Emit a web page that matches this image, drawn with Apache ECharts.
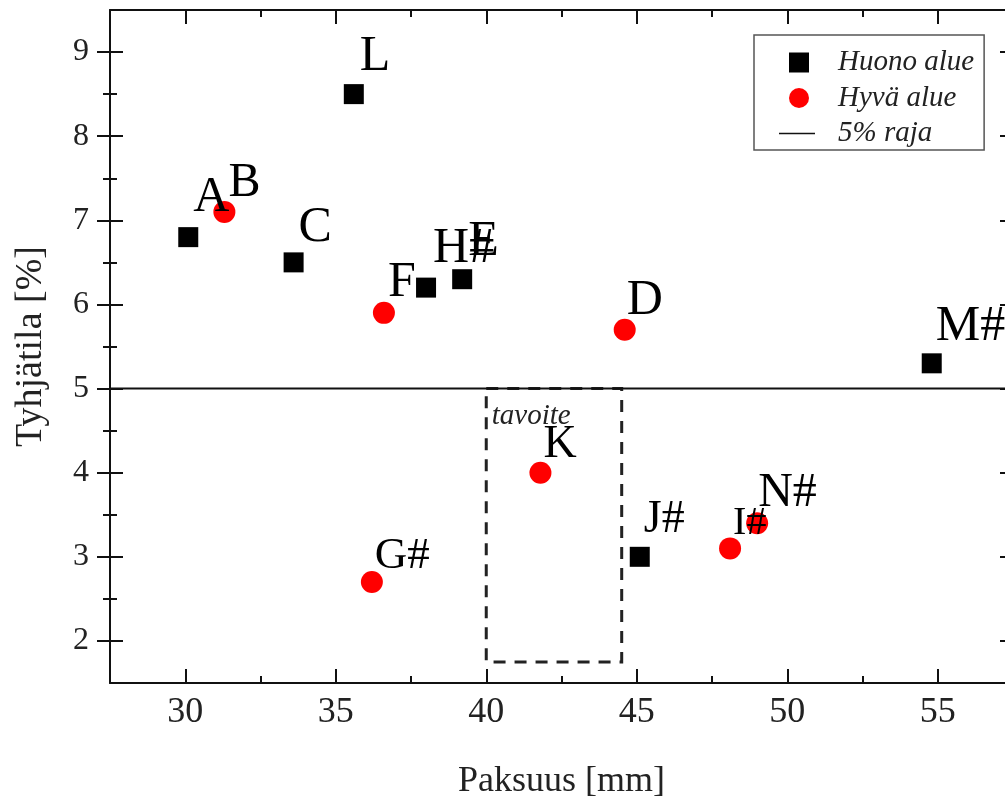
<!DOCTYPE html>
<html><head><meta charset="utf-8">
<script src="https://cdn.jsdelivr.net/npm/echarts@6/dist/echarts.min.js"></script>
<style>html,body{margin:0;padding:0;background:#fff}#c{width:1005px;height:796px}</style>
</head><body><div id="c"></div>
<script>
// ---- data ----
const huonoNames = ['A', 'L', 'C', 'H#', 'E', 'J#', 'M#'];
const huonoX = [30.1, 35.6, 33.6, 38.0, 39.2, 45.1, 54.8];
const huonoY = [6.8, 8.5, 6.5, 6.2, 6.3, 3.0, 5.3];
const hyvaNames = ['B', 'F', 'D', 'G#', 'K', 'I#', 'N#'];
const hyvaX = [31.3, 36.6, 44.6, 36.2, 41.8, 48.1, 49.0];
const hyvaY = [7.1, 5.9, 5.7, 2.7, 4.0, 3.1, 3.4];
const xMin = 27.5, xMax = 57.5, yMin = 1.5, yMax = 9.5;
const xTicks = [30, 35, 40, 45, 50, 55];
const xMinorTicks = [32.5, 37.5, 42.5, 47.5, 52.5];
const yTicks = [2, 3, 4, 5, 6, 7, 8, 9];
const yMinorTicks = [2.5, 3.5, 4.5, 5.5, 6.5, 7.5, 8.5];
const limitY = 5;
const targetX = [40, 44.5];
const targetY = [1.75, 5];
const seriesNames = ['Huono alue', 'Hyvä alue', '5% raja'];
const xName = 'Paksuus [mm]';
const yName = 'Tyhjätila [%]';
const targetText = 'tavoite';

// ---- label styling (offset from point centre, font size) ----
const labelStyle = {
  'A': [5, -39, 50], 'B': [4, -29, 48], 'L': [6, -37, 50], 'C': [5, -35, 50],
  'F': [4, -30, 50], 'H#': [7, -39, 50], 'E': [6, -37, 50], 'D': [2, -29, 50],
  'M#': [4, -36, 50], 'G#': [3, -26, 45], 'K': [3, -28, 46], 'J#': [4, -37, 46],
  'I#': [3, -25, 40], 'N#': [1, -30, 48]
};

const serif = '"Liberation Serif", "Times New Roman", serif';
const axCol = '#111';

function pts(names, xs, ys) {
  return names.map((n, i) => {
    const s = labelStyle[n] || [4, -30, 48];
    return { name: n, value: [xs[i], ys[i]], label: { offset: [s[0], s[1]], fontSize: s[2] } };
  });
}

function xAx(pos, ticks, len, line, labels) {
  return {
    type: 'value', position: pos, min: xMin, max: xMax, gridIndex: 0,
    axisLine: { show: line, onZero: false, lineStyle: { color: axCol, width: 2 } },
    axisTick: { show: true, inside: true, length: len, customValues: ticks, lineStyle: { color: axCol, width: 2 } },
    axisLabel: labels ? { show: true, customValues: ticks, margin: 12, fontSize: 36, fontFamily: serif, color: '#222' } : { show: false },
    splitLine: { show: false }
  };
}
function yAx(pos, ticks, len, inside, line, labels) {
  return {
    type: 'value', position: pos, min: yMin, max: yMax, gridIndex: 0,
    axisLine: { show: line, onZero: false, lineStyle: { color: axCol, width: 2 } },
    axisTick: { show: true, inside: inside, length: len, customValues: ticks, lineStyle: { color: axCol, width: 2 } },
    axisLabel: labels ? { show: true, customValues: ticks, margin: 21, fontSize: 32, fontFamily: serif, color: '#222' } : { show: false },
    splitLine: { show: false }
  };
}

const xAxes = [
  xAx('bottom', xTicks, 14, true, true),
  xAx('bottom', xMinorTicks, 7, false, false),
  xAx('top', xTicks, 14, true, false),
  xAx('top', xMinorTicks, 7, false, false)
];
Object.assign(xAxes[0], { name: xName, nameLocation: 'middle', nameGap: 81,
  nameTextStyle: { fontSize: 36, fontFamily: serif, color: '#222' } });

const yAxes = [
  yAx('left', yTicks, 13, true, true, true),
  yAx('left', yTicks, 13, false, false, false),
  yAx('left', yMinorTicks, 7, true, false, false),
  yAx('left', yMinorTicks, 7, false, false, false),
  yAx('right', yTicks, 13, true, true, false),
  yAx('right', yMinorTicks, 7, true, false, false)
];
Object.assign(yAxes[0], { name: yName, nameLocation: 'middle', nameGap: 60, nameRotate: 90,
  nameTextStyle: { fontSize: 38, fontFamily: serif, color: '#222' } });

const labelBase = {
  show: true, position: 'inside', align: 'left', verticalAlign: 'middle',
  formatter: '{b}', color: '#000', fontFamily: serif
};

const option = {
  animation: false,
  backgroundColor: '#fff',
  grid: { left: 110, top: 10, width: 903, height: 673, containLabel: false, outerBoundsMode: 'none' },
  xAxis: xAxes,
  yAxis: yAxes,
  legend: {
    orient: 'vertical', left: 754, top: 35, align: 'left',
    padding: [13, 10, 2, 25], itemGap: 6.5, itemWidth: 40, itemHeight: 20,
    borderColor: '#555', borderWidth: 1.5, borderRadius: 0,
    textStyle: { fontFamily: serif, fontStyle: 'italic', fontSize: 29, color: '#222', padding: [0, 0, 0, 14] },
    data: [
      { name: seriesNames[0], icon: 'path://M0,0H10V10H0Z' },
      { name: seriesNames[1], icon: 'circle' },
      { name: seriesNames[2], icon: 'path://M0,0M40,20M0,9.3H36V10.7H0Z' }
    ]
  },
  series: [
    {
      name: seriesNames[2], type: 'line', symbol: 'none', silent: true, z: 1,
      lineStyle: { color: axCol, width: 2 }, itemStyle: { color: axCol },
      data: [[xMin, limitY], [xMax, limitY]],
      markArea: {
        silent: true,
        itemStyle: { color: 'rgba(0,0,0,0)', borderColor: '#222', borderWidth: 3, borderType: [12, 9] },
        label: { show: true, position: [7, 15], formatter: targetText, fontFamily: serif, fontStyle: 'italic', fontSize: 29, color: '#222' },
        data: [[{ coord: [targetX[0], targetY[1]] }, { coord: [targetX[1], targetY[0]] }]]
      }
    },
    {
      name: seriesNames[0], type: 'scatter', symbol: 'rect', symbolSize: 20, z: 3,
      itemStyle: { color: '#000', opacity: 1 }, label: labelBase,
      data: pts(huonoNames, huonoX, huonoY)
    },
    {
      name: seriesNames[1], type: 'scatter', symbol: 'circle', symbolSize: 22, z: 3,
      itemStyle: { color: '#ff0000', opacity: 1 }, label: labelBase,
      data: pts(hyvaNames, hyvaX, hyvaY)
    }
  ]
};
const chart = echarts.init(document.getElementById('c'), null, { renderer: 'canvas' });
chart.setOption(option);
</script></body></html>
